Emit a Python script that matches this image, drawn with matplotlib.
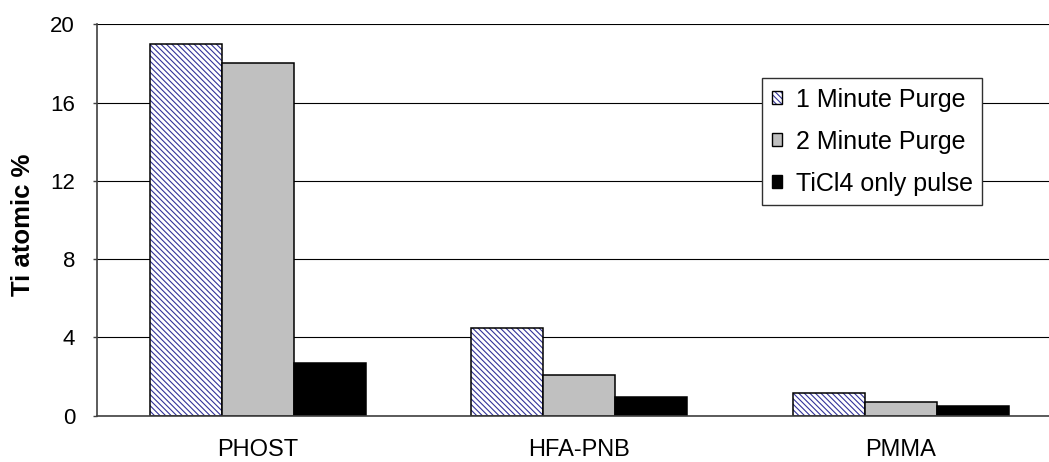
import matplotlib
matplotlib.use('Agg')
import matplotlib.pyplot as plt
from matplotlib.patches import Patch
from matplotlib.colors import to_rgba
import numpy as np

categories = ['PHOST', 'HFA-PNB', 'PMMA']
series_names = ['1 Minute Purge', '2 Minute Purge', 'TiCl4 only pulse']
purge_1min = [19.0, 4.5, 1.15]
purge_2min = [18.0, 2.1, 0.7]
ticl4_only = [2.7, 0.95, 0.5]
y_ticks = [0, 4, 8, 12, 16, 20]

plt.rcParams['font.family'] = ['Liberation Sans', 'DejaVu Sans']
plt.rcParams['hatch.linewidth'] = 0.8

HATCH = '\\' * 6
HATCH_COLOR = to_rgba('#333399')
GRAY = '#c0c0c0'
EDGE_LW = 1.1


def blue_hatch(patch):
    # black outline, blue diagonal pattern
    patch._hatch_color = HATCH_COLOR
    return patch


fig = plt.figure(figsize=(10.49, 4.62), dpi=100)
ax = fig.add_axes([0.0928, 0.1002, 0.9192, 0.8472])

x = np.arange(len(categories))
w = 0.224

bars1 = ax.bar(x - w, purge_1min, w, facecolor='white', edgecolor='black',
               hatch=HATCH, linewidth=EDGE_LW)
for r in bars1:
    blue_hatch(r)
ax.bar(x, purge_2min, w, facecolor=GRAY, edgecolor='black', linewidth=EDGE_LW)
ax.bar(x + w, ticl4_only, w, facecolor='black', edgecolor='black', linewidth=EDGE_LW)

ax.set_xlim(-0.5, len(categories) - 0.5)
ax.set_ylim(0, 20)
ax.set_yticks(y_ticks)
ax.set_xticks(x)
ax.set_xticklabels(categories)
ax.tick_params(axis='y', labelsize=16, length=3, width=1, color='#404040', pad=13)
ax.tick_params(axis='x', labelsize=17, length=0, pad=16.5)

ax.set_axisbelow(True)
ax.yaxis.grid(True, color='black', linewidth=0.8)
for side in ('top', 'right'):
    ax.spines[side].set_visible(False)
for side in ('left', 'bottom'):
    ax.spines[side].set_color('#404040')
    ax.spines[side].set_linewidth(1.2)

fig.text(23 / 1049, 1 - 225 / 462, 'Ti atomic %', rotation=90, ha='center',
         va='center', fontsize=18.5, fontweight='bold')

handles = [
    blue_hatch(Patch(facecolor='white', edgecolor='black', hatch=HATCH, linewidth=1.0)),
    Patch(facecolor=GRAY, edgecolor='black', linewidth=1.0),
    Patch(facecolor='black', edgecolor='black', linewidth=1.0),
]
leg = ax.legend(handles, series_names, loc='upper right',
                bbox_to_anchor=(982 / 1049, 1 - 78 / 462),
                bbox_transform=fig.transFigure, fontsize=18, frameon=True,
                fancybox=False, framealpha=1, edgecolor='#303030',
                handlelength=0.4, handleheight=0.4, handletextpad=0.55,
                labelspacing=0.72, borderpad=0.38, borderaxespad=0)
leg.get_frame().set_linewidth(1.0)

fig.savefig('out.png', dpi=100)
